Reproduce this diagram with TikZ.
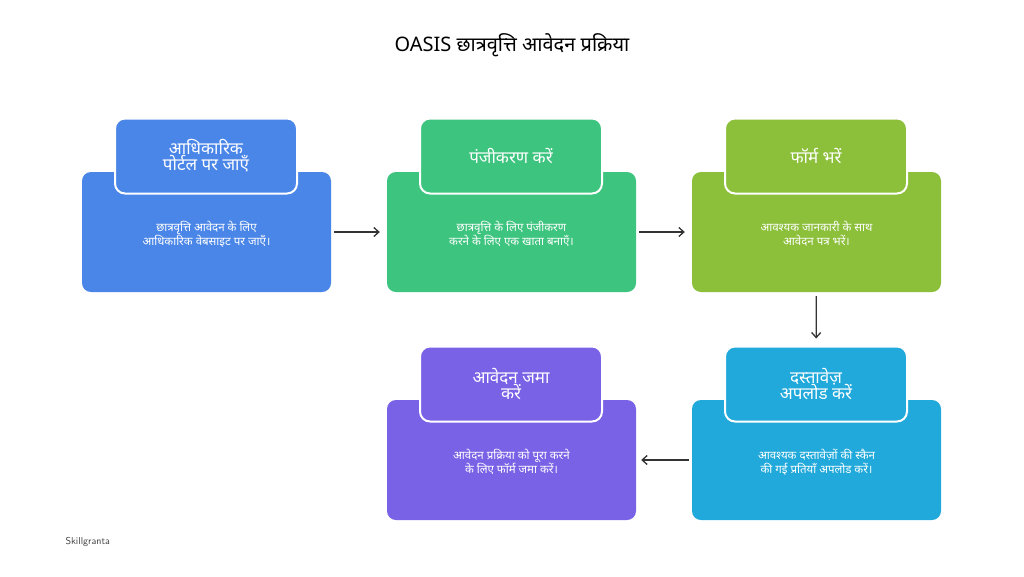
\documentclass[tikz,border=0pt]{standalone}
\usepackage{fontspec}
\setmainfont[Script=Devanagari]{Noto Sans}
\usetikzlibrary{arrows.meta,positioning}

\definecolor{cblue}{HTML}{4A86E8}
\definecolor{cgreen}{HTML}{3DC47E}
\definecolor{colive}{HTML}{8CBF3A}
\definecolor{ccyan}{HTML}{20A9DA}
\definecolor{cpurple}{HTML}{7A62E6}

\tikzset{
  bodybox/.style={draw=none, fill=#1, rounded corners=9pt, minimum width=249pt,
    minimum height=120pt, text=white, align=center, font=\fontsize{11.5}{14}\selectfont},
  tabbox/.style={draw=white, line width=2pt, fill=#1, rounded corners=10pt,
    minimum width=182pt, minimum height=75pt, text=white, align=center,
    font=\bfseries\fontsize{17}{19}\selectfont},
  flow/.style={-{Straight Barb[length=5pt,width=9pt]}, line width=1.3pt, draw=black!80}
}

\begin{document}
\begin{tikzpicture}[x=1pt,y=-1pt]
    \useasboundingbox (0,0) rectangle (1024,576);
    \fill[white] (0,0) rectangle (1024,576);

    % Title
    \node (title) at (512,45) {\bfseries\fontsize{20}{24}\selectfont OASIS छात्रवृत्ति आवेदन प्रक्रिया};

    % Bodies
    \node[bodybox=cblue]   (portal)   at (206.5,232) {\mbox{}\\[0pt]छात्रवृत्ति आवेदन के लिए\\आधिकारिक वेबसाइट पर जाएँ।};
    \node[bodybox=cgreen]  (register) at (511.5,232) {\mbox{}\\[0pt]छात्रवृत्ति के लिए पंजीकरण\\करने के लिए एक खाता बनाएँ।};
    \node[bodybox=colive]  (form)     at (816.5,232) {\mbox{}\\[0pt]आवश्यक जानकारी के साथ\\आवेदन पत्र भरें।};
    \node[bodybox=ccyan]   (upload)   at (816.5,460) {\mbox{}\\[0pt]आवश्यक दस्तावेज़ों की स्कैन\\की गई प्रतियाँ अपलोड करें।};
    \node[bodybox=cpurple] (submit)   at (511.5,460) {\mbox{}\\[0pt]आवेदन प्रक्रिया को पूरा करने\\के लिए फॉर्म जमा करें।};

    % Tabs
    \node[tabbox=cblue]   (portaltab)   at (206,156) {आधिकारिक\\[-3pt]पोर्टल पर जाएँ};
    \node[tabbox=cgreen]  (registertab) at (511,156) {पंजीकरण करें};
    \node[tabbox=colive]  (formtab)     at (816,156) {फॉर्म भरें};
    \node[tabbox=ccyan]   (uploadtab)   at (816,384) {दस्तावेज़\\[-3pt]अपलोड करें};
    \node[tabbox=cpurple] (submittab)   at (511,384) {आवेदन जमा\\[-3pt]करें};

    % Connectors
    \draw[flow, shorten <=3pt, shorten >=7pt] (portal) -- (register);
    \draw[flow, shorten <=3pt, shorten >=7pt] (register) -- (form);
    \draw[flow, shorten <=4pt, shorten >=7pt] (form) -- (uploadtab);
    \draw[flow, shorten <=3pt, shorten >=5pt] (upload) -- (submit);

    % Footer
    \node[anchor=west, font=\sffamily\fontsize{10}{12}\selectfont, text=black!75] (brand) at (62,542) {Skillgranta};
\end{tikzpicture}
\end{document}
